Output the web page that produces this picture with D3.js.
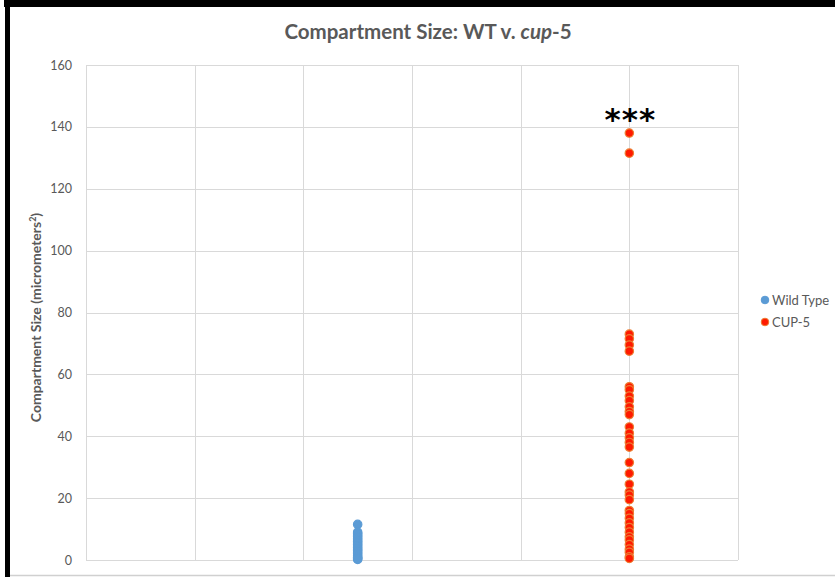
<!DOCTYPE html>
<html>
<head>
<meta charset="utf-8">
<script src="https://cdn.jsdelivr.net/npm/d3@7"></script>
<style>
  html, body { margin: 0; padding: 0; background: #fff; }
  svg { display: block; }
</style>
</head>
<body>
<svg id="chart" width="835" height="577"></svg>
<script>
// Compartment sizes (micrometers²) per group
const wildType = [11.5, 9, 8.5, 8, 7.5, 7, 6.5, 6, 5.5, 5, 4.5, 4, 3.5, 3, 2.5, 2, 1.5, 1, 0.7, 0.4, 0.2];
const cup5 = [138, 131.5, 73, 71.5, 69.5, 67.5, 56, 55, 53, 51.5, 49.5, 48, 47, 43, 41, 39.5, 38, 36.5,
              31.5, 28, 24.5, 22, 21, 19.5, 16, 15, 13.5, 12, 10.5, 9, 7.5, 6.5, 5, 3.5, 2.5, 1, 0.5];
const groupX = { "Wild Type": 2.5, "CUP-5": 5 };
const yTicks = [0, 20, 40, 60, 80, 100, 120, 140, 160];
const xGrid = [0, 1, 2, 3, 4, 5, 6];

const series = [
  { name: "Wild Type", values: wildType, fill: "#5B9BD5", stroke: "#5B9BD5" },
  { name: "CUP-5", values: cup5, fill: "#FF1A00", stroke: "#ED7D31" }
];

const svg = d3.select("#chart");
const W = 835, H = 577;
const plot = { left: 86, right: 738, top: 65, bottom: 560 };

const x = d3.scaleLinear().domain([0, 6]).range([plot.left, plot.right]);
const y = d3.scaleLinear().domain([0, 160]).range([plot.bottom, plot.top]);

// page frame
svg.append("rect").attr("x", 0).attr("y", 0).attr("width", W).attr("height", H).attr("fill", "#fff");
svg.append("rect").attr("x", 4).attr("y", 0).attr("width", W - 4).attr("height", 7).attr("fill", "#000");
svg.append("rect").attr("x", 5).attr("y", 0).attr("width", 5).attr("height", H).attr("fill", "#000");
svg.append("line").attr("x1", 10).attr("x2", W).attr("y1", 575.5).attr("y2", 575.5)
  .attr("stroke", "#d0d0d0").attr("stroke-width", 1.5);

// gridlines
const grid = svg.append("g").attr("stroke", "#d9d9d9").attr("stroke-width", 1);
grid.selectAll("line.h").data(yTicks).join("line").attr("class", "h")
  .attr("x1", plot.left).attr("x2", plot.right)
  .attr("y1", d => Math.round(y(d)) + 0.5).attr("y2", d => Math.round(y(d)) + 0.5);
grid.selectAll("line.v").data(xGrid).join("line").attr("class", "v")
  .attr("y1", plot.top).attr("y2", plot.bottom)
  .attr("x1", d => Math.round(x(d)) + 0.5).attr("x2", d => Math.round(x(d)) + 0.5);

// y axis labels
const yAxis = d3.axisLeft(y).tickValues(yTicks).tickSize(0).tickPadding(14);
const gy = svg.append("g").attr("transform", `translate(${plot.left},0)`).call(yAxis);
gy.select(".domain").remove();
gy.selectAll("text").attr("fill", "#595959").attr("font-family", "Lato, 'Open Sans', sans-serif")
  .attr("font-size", 12.5);

// axis title
const yt = svg.append("text")
  .attr("transform", `translate(41,${(plot.top + plot.bottom) / 2 + 5}) rotate(-90)`)
  .attr("text-anchor", "middle").attr("fill", "#595959")
  .attr("font-family", "Lato, 'Open Sans', sans-serif").attr("font-weight", 700).attr("font-size", 14);
yt.append("tspan").text("Compartment Size (micrometers");
yt.append("tspan").attr("font-size", 9).attr("dy", -5).text("2");
yt.append("tspan").attr("dy", 5).text(")");

// chart title
const title = svg.append("text").attr("x", 428).attr("y", 39).attr("text-anchor", "middle")
  .attr("fill", "#595959").attr("font-family", "Lato, 'Open Sans', sans-serif")
  .attr("font-weight", 700).attr("font-size", 20.5);
title.append("tspan").text("Compartment Size: WT v. ");
title.append("tspan").attr("font-style", "italic").text("cup");
title.append("tspan").text("-5");

// points
series.forEach(s => {
  svg.append("g").selectAll("circle").data(s.values).join("circle")
    .attr("cx", x(groupX[s.name])).attr("cy", d => y(d)).attr("r", 4.2)
    .attr("fill", s.fill).attr("stroke", s.stroke).attr("stroke-width", 1.2);
});

// significance marker
svg.append("text").attr("x", x(groupX["CUP-5"]) + 1).attr("y", 130).attr("text-anchor", "middle")
  .attr("fill", "#000").attr("font-family", "'DejaVu Sans', sans-serif").attr("font-size", 31)
  .attr("font-weight", 700).attr("letter-spacing", 1).text("***");

// legend
const legend = svg.append("g").attr("transform", "translate(765,300)");
series.forEach((s, i) => {
  const g = legend.append("g").attr("transform", `translate(0,${i * 22})`);
  g.append("circle").attr("r", 3.8).attr("fill", s.fill).attr("stroke", s.stroke);
  g.append("text").attr("x", 7).attr("y", 4.5).attr("fill", "#595959")
    .attr("font-family", "Lato, 'Open Sans', sans-serif").attr("font-size", 13).text(s.name);
});
</script>
</body>
</html>
